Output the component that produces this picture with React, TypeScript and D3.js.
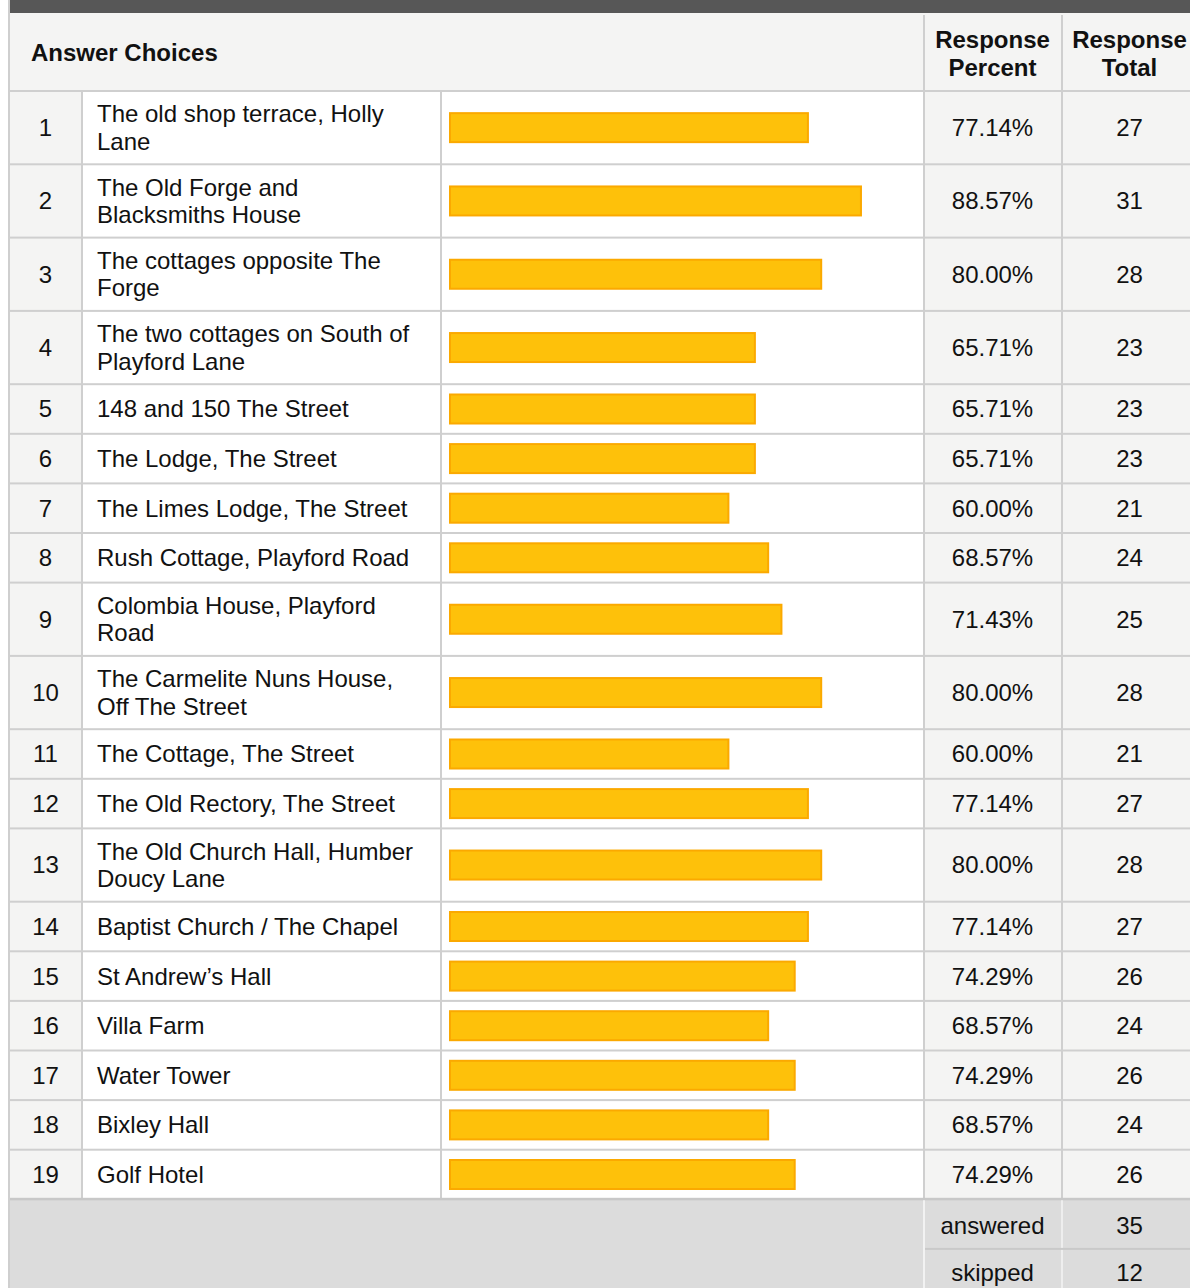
import React from "react";
import * as d3 from "d3";

const choiceLabels: string[] = [
  "The old shop terrace, Holly\nLane",
  "The Old Forge and\nBlacksmiths House",
  "The cottages opposite The\nForge",
  "The two cottages on South of\nPlayford Lane",
  "148 and 150 The Street",
  "The Lodge, The Street",
  "The Limes Lodge, The Street",
  "Rush Cottage, Playford Road",
  "Colombia House, Playford\nRoad",
  "The Carmelite Nuns House,\nOff The Street",
  "The Cottage, The Street",
  "The Old Rectory, The Street",
  "The Old Church Hall, Humber\nDoucy Lane",
  "Baptist Church / The Chapel",
  "St Andrew\u2019s Hall",
  "Villa Farm",
  "Water Tower",
  "Bixley Hall",
  "Golf Hotel",
];
const responsePercents: number[] = [
  77.14, 88.57, 80.0, 65.71, 65.71, 65.71, 60.0, 68.57, 71.43, 80.0, 60.0,
  77.14, 80.0, 77.14, 74.29, 68.57, 74.29, 68.57, 74.29,
];
const responseTotals: number[] = [
  27, 31, 28, 23, 23, 23, 21, 24, 25, 28, 21, 27, 28, 27, 26, 24, 26, 24, 26,
];
const headerLabels: string[] = ["Answer Choices", "Response\nPercent", "Response\nTotal"];
const footerLabels: string[] = ["answered", "skipped"];
const footerValues: number[] = [35, 12];

const W = 1190;
const H = 1288;
const FONT = "'Liberation Sans', Arial, Helvetica, sans-serif";
const BORDER = "#cfcfcf";
const SHADE = "#f4f4f3";

// column edges
const X0 = 9;
const C_NUM = [10, 81];
const C_LABEL = [82, 440];
const C_BAR = [441, 923];
const C_PCT = [924, 1061];
const C_TOT = [1062, 1197];

const HEADER_TOP = 13;
const BODY_TOP = 91;

export default function App() {
  const rowH = choiceLabels.map((l) => (l.split("\n").length > 1 ? 73.3 : 49.6));
  const rowY: number[] = [];
  let acc = BODY_TOP;
  rowH.forEach((h) => {
    rowY.push(acc);
    acc += h;
  });
  const bodyBottom = acc;

  const x = d3.scaleLinear().domain([0, 100]).range([450, 914]);

  const pctFmt = (v: number) => d3.format(".2f")(v) + "%";

  const footRowH = 49.6;

  return (
    <svg
      width={W}
      height={H}
      style={{ position: "absolute", left: 0, top: 0, display: "block", background: "#fff" }}
      fontFamily={FONT}
    >
      {/* top dark bar */}
      <rect x={X0 + 1} y={0} width={W - X0} height={HEADER_TOP} fill="#575757" />
      {/* left border */}
      <rect x={8} y={0} width={2} height={H} fill={BORDER} />
      {/* header */}
      <rect x={10} y={HEADER_TOP} width={W - 10} height={BODY_TOP - HEADER_TOP} fill={SHADE} />
      <text x={31} y={53} dy="0.35em" fontSize={24} fontWeight="bold" fill="#111">
        {headerLabels[0]}
      </text>
      {[C_PCT, C_TOT].map((c, i) => {
        const lines = headerLabels[i + 1].split("\n");
        return (
          <text key={i} textAnchor="middle" fontSize={24} fontWeight="bold" fill="#111">
            {lines.map((ln, j) => (
              <tspan key={j} x={(c[0] + c[1]) / 2} y={40 + j * 28} dy="0.35em">
                {ln}
              </tspan>
            ))}
          </text>
        );
      })}
      <rect x={C_PCT[0] - 1} y={15} width={2} height={BODY_TOP - 15} fill={BORDER} />
      <rect x={C_TOT[0] - 1} y={15} width={2} height={BODY_TOP - 15} fill={BORDER} />

      {/* body rows */}
      {choiceLabels.map((label, i) => {
        const y0 = rowY[i];
        const h = rowH[i];
        const cy = y0 + h / 2;
        const lines = label.split("\n");
        const lh = 27.5;
        return (
          <g key={i}>
            <rect x={C_NUM[0]} y={y0} width={C_NUM[1] - C_NUM[0]} height={h} fill={SHADE} />
            <rect x={C_PCT[0]} y={y0} width={C_PCT[1] - C_PCT[0]} height={h} fill={SHADE} />
            <rect x={C_TOT[0]} y={y0} width={C_TOT[1] - C_TOT[0]} height={h} fill={SHADE} />
            <text x={45.5} y={cy} dy="0.35em" textAnchor="middle" fontSize={24} fill="#111">
              {i + 1}
            </text>
            <text fontSize={24} fill="#111">
              {lines.map((ln, j) => (
                <tspan key={j} x={97} y={cy + (j - (lines.length - 1) / 2) * lh} dy="0.35em">
                  {ln}
                </tspan>
              ))}
            </text>
            <rect
              x={x(0)}
              y={cy - 14.5}
              width={x(responsePercents[i]) - x(0)}
              height={29}
              fill="#fec10a"
              stroke="#fba900"
              strokeWidth={2}
            />
            <text
              x={(C_PCT[0] + C_PCT[1]) / 2}
              y={cy}
              dy="0.35em"
              textAnchor="middle"
              fontSize={24}
              fill="#111"
            >
              {pctFmt(responsePercents[i])}
            </text>
            <text
              x={(C_TOT[0] + C_TOT[1]) / 2}
              y={cy}
              dy="0.35em"
              textAnchor="middle"
              fontSize={24}
              fill="#111"
            >
              {responseTotals[i]}
            </text>
          </g>
        );
      })}
      {/* horizontal row borders */}
      {rowY.map((y, i) => (
        <rect key={"h" + i} x={10} y={y - 1} width={W - 10} height={2} fill={BORDER} />
      ))}
      {/* vertical column borders */}
      {[C_LABEL[0], C_BAR[0], C_PCT[0], C_TOT[0]].map((cx, i) => (
        <rect
          key={"v" + i}
          x={cx - 1}
          y={BODY_TOP}
          width={2}
          height={bodyBottom - BODY_TOP}
          fill={BORDER}
        />
      ))}

      {/* footer */}
      <rect x={10} y={bodyBottom} width={W - 10} height={H - bodyBottom} fill="#dcdcdc" />
      <rect x={10} y={bodyBottom - 1.5} width={W - 10} height={2.5} fill="#c8c8c8" />
      <rect x={C_PCT[0] - 1} y={bodyBottom + 1} width={2} height={H - bodyBottom} fill="#f2f2f2" />
      <rect x={C_TOT[0] - 1} y={bodyBottom + 1} width={2} height={H - bodyBottom} fill="#eeeeee" />
      <rect
        x={C_PCT[0] + 1}
        y={bodyBottom + footRowH - 1}
        width={W - C_PCT[0]}
        height={2}
        fill="#c9c9c9"
      />
      {footerLabels.map((lab, i) => {
        const cy = bodyBottom + 26 + i * (footRowH - 2);
        return (
          <g key={"f" + i}>
            <text
              x={(C_PCT[0] + C_PCT[1]) / 2}
              y={cy}
              dy="0.35em"
              textAnchor="middle"
              fontSize={24}
              fill="#111"
            >
              {lab}
            </text>
            <text
              x={(C_TOT[0] + C_TOT[1]) / 2}
              y={cy}
              dy="0.35em"
              textAnchor="middle"
              fontSize={24}
              fill="#111"
            >
              {footerValues[i]}
            </text>
          </g>
        );
      })}
    </svg>
  );
}
